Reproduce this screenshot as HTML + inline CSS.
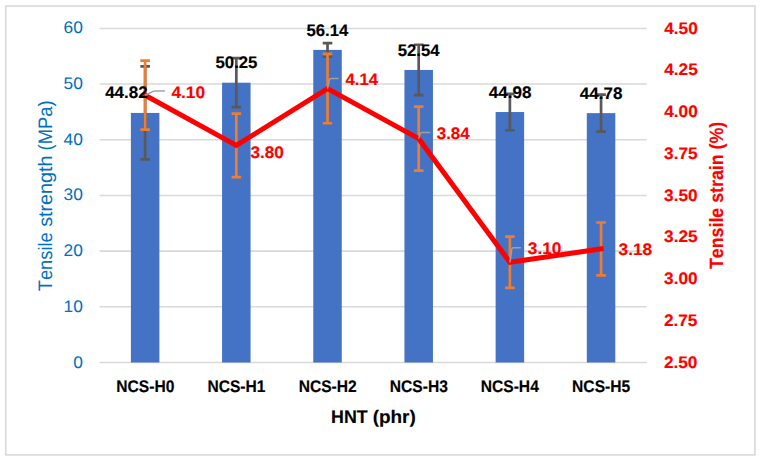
<!DOCTYPE html>
<html><head><meta charset="utf-8"><style>
html,body{margin:0;padding:0;background:#fff;}
svg{display:block;}
text{font-family:"Liberation Sans",sans-serif;font-kerning:none;text-rendering:geometricPrecision;}
</style></head><body>
<svg width="763" height="463" viewBox="0 0 763 463">
<rect width="763" height="463" fill="#fff"/>
<rect x="5.75" y="6.05" width="749.15" height="448.85" fill="none" stroke="#D9D9D9" stroke-width="1.6"/>
<line x1="99.55" x2="646.65" y1="362.50" y2="362.50" stroke="#D9D9D9" stroke-width="1.55"/>
<line x1="99.55" x2="646.65" y1="306.82" y2="306.82" stroke="#D9D9D9" stroke-width="1.55"/>
<line x1="99.55" x2="646.65" y1="251.13" y2="251.13" stroke="#D9D9D9" stroke-width="1.55"/>
<line x1="99.55" x2="646.65" y1="195.45" y2="195.45" stroke="#D9D9D9" stroke-width="1.55"/>
<line x1="99.55" x2="646.65" y1="139.77" y2="139.77" stroke="#D9D9D9" stroke-width="1.55"/>
<line x1="99.55" x2="646.65" y1="84.08" y2="84.08" stroke="#D9D9D9" stroke-width="1.55"/>
<line x1="99.55" x2="646.65" y1="28.40" y2="28.40" stroke="#D9D9D9" stroke-width="1.55"/>
<rect x="130.89" y="112.93" width="28.5" height="249.57" fill="#4472C4"/>
<rect x="222.07" y="82.69" width="28.5" height="279.81" fill="#4472C4"/>
<rect x="313.26" y="49.89" width="28.5" height="312.61" fill="#4472C4"/>
<rect x="404.44" y="69.94" width="28.5" height="292.56" fill="#4472C4"/>
<rect x="495.63" y="112.04" width="28.5" height="250.46" fill="#4472C4"/>
<rect x="586.81" y="113.15" width="28.5" height="249.35" fill="#4472C4"/>
<path d="M145.14 66.43V159.43M140.34 66.43H149.94M140.34 159.43H149.94" stroke="#595959" stroke-width="2.7" fill="none"/>
<path d="M236.32 58.19V107.19M231.52 58.19H241.12M231.52 107.19H241.12" stroke="#595959" stroke-width="2.7" fill="none"/>
<path d="M327.51 43.04V56.74M322.71 43.04H332.31M322.71 56.74H332.31" stroke="#595959" stroke-width="2.7" fill="none"/>
<path d="M418.69 44.74V95.14M413.89 44.74H423.49M413.89 95.14H423.49" stroke="#595959" stroke-width="2.7" fill="none"/>
<path d="M509.88 93.84V130.24M505.08 93.84H514.68M505.08 130.24H514.68" stroke="#595959" stroke-width="2.7" fill="none"/>
<path d="M601.06 94.65V131.65M596.26 94.65H605.86M596.26 131.65H605.86" stroke="#595959" stroke-width="2.7" fill="none"/>
<path d="M145.14 60.72V129.72M140.34 60.72H149.94M140.34 129.72H149.94" stroke="#ED7D31" stroke-width="2.7" fill="none"/>
<path d="M236.32 113.64V177.03M231.52 113.64H241.12M231.52 177.03H241.12" stroke="#ED7D31" stroke-width="2.7" fill="none"/>
<path d="M327.51 53.84V123.24M322.71 53.84H332.31M322.71 123.24H332.31" stroke="#ED7D31" stroke-width="2.7" fill="none"/>
<path d="M418.69 106.65V170.65M413.89 106.65H423.49M413.89 170.65H423.49" stroke="#ED7D31" stroke-width="2.7" fill="none"/>
<path d="M509.88 236.57V287.97M505.08 236.57H514.68M505.08 287.97H514.68" stroke="#ED7D31" stroke-width="2.7" fill="none"/>
<path d="M601.06 222.51V275.31M596.26 222.51H605.86M596.26 275.31H605.86" stroke="#ED7D31" stroke-width="2.7" fill="none"/>
<polyline points="145.14,95.22 236.32,145.34 327.51,88.54 418.69,138.65 509.88,262.27 601.06,248.91" fill="none" stroke="#FF0000" stroke-width="5.0" stroke-linejoin="miter" stroke-miterlimit="10" stroke-linecap="square"/>
<path d="M145.14,95.22 L153.21,91.41 Q154.30,90.90 155.50,90.90 L164.90,90.90" stroke="#A0A0A0" stroke-width="1.5" fill="none"/>
<path d="M327.51,88.54 L329.45,79.57 Q329.70,78.40 330.90,78.40 L338.70,78.40" stroke="#A0A0A0" stroke-width="1.5" fill="none"/>
<path d="M418.69,138.65 L420.24,133.65 Q420.60,132.50 421.80,132.50 L430.20,132.50" stroke="#A0A0A0" stroke-width="1.5" fill="none"/>
<path d="M509.88,262.27 L511.83,248.99 Q512.00,247.80 513.20,247.80 L521.10,247.80" stroke="#A0A0A0" stroke-width="1.5" fill="none"/>
<text transform="translate(73.19,367.50) scale(1.0367,1)" font-size="16.72" font-weight="normal" fill="#0070C0">0</text>
<text transform="translate(63.55,311.82) scale(1.0367,1)" font-size="16.72" font-weight="normal" fill="#0070C0">10</text>
<text transform="translate(63.55,256.13) scale(1.0367,1)" font-size="16.72" font-weight="normal" fill="#0070C0">20</text>
<text transform="translate(63.55,200.45) scale(1.0367,1)" font-size="16.72" font-weight="normal" fill="#0070C0">30</text>
<text transform="translate(63.55,144.77) scale(1.0367,1)" font-size="16.72" font-weight="normal" fill="#0070C0">40</text>
<text transform="translate(63.55,89.08) scale(1.0367,1)" font-size="16.72" font-weight="normal" fill="#0070C0">50</text>
<text transform="translate(63.55,33.40) scale(1.0367,1)" font-size="16.72" font-weight="normal" fill="#0070C0">60</text>
<text transform="translate(664.24,33.65) scale(1.0318,1)" font-size="16.72" font-weight="bold" fill="#FF0000" stroke="#FF0000" stroke-width="0.145">4.50</text>
<text transform="translate(664.24,75.41) scale(1.0318,1)" font-size="16.72" font-weight="bold" fill="#FF0000" stroke="#FF0000" stroke-width="0.145">4.25</text>
<text transform="translate(664.24,117.18) scale(1.0318,1)" font-size="16.72" font-weight="bold" fill="#FF0000" stroke="#FF0000" stroke-width="0.145">4.00</text>
<text transform="translate(664.10,158.94) scale(1.0318,1)" font-size="16.72" font-weight="bold" fill="#FF0000" stroke="#FF0000" stroke-width="0.145">3.75</text>
<text transform="translate(664.10,200.70) scale(1.0318,1)" font-size="16.72" font-weight="bold" fill="#FF0000" stroke="#FF0000" stroke-width="0.145">3.50</text>
<text transform="translate(664.10,242.46) scale(1.0318,1)" font-size="16.72" font-weight="bold" fill="#FF0000" stroke="#FF0000" stroke-width="0.145">3.25</text>
<text transform="translate(664.10,284.23) scale(1.0318,1)" font-size="16.72" font-weight="bold" fill="#FF0000" stroke="#FF0000" stroke-width="0.145">3.00</text>
<text transform="translate(663.90,325.99) scale(1.0318,1)" font-size="16.72" font-weight="bold" fill="#FF0000" stroke="#FF0000" stroke-width="0.145">2.75</text>
<text transform="translate(663.90,367.75) scale(1.0318,1)" font-size="16.72" font-weight="bold" fill="#FF0000" stroke="#FF0000" stroke-width="0.145">2.50</text>
<text transform="translate(116.30,391.60) scale(0.9294,1)" font-size="16.79" font-weight="bold" fill="#000000" stroke="#000000" stroke-width="0.161">NCS-H0</text>
<text transform="translate(207.38,391.60) scale(0.9294,1)" font-size="16.79" font-weight="bold" fill="#000000" stroke="#000000" stroke-width="0.161">NCS-H1</text>
<text transform="translate(298.66,391.60) scale(0.9294,1)" font-size="16.79" font-weight="bold" fill="#000000" stroke="#000000" stroke-width="0.161">NCS-H2</text>
<text transform="translate(389.81,391.60) scale(0.9294,1)" font-size="16.79" font-weight="bold" fill="#000000" stroke="#000000" stroke-width="0.161">NCS-H3</text>
<text transform="translate(480.75,391.60) scale(0.9294,1)" font-size="16.79" font-weight="bold" fill="#000000" stroke="#000000" stroke-width="0.161">NCS-H4</text>
<text transform="translate(572.11,391.60) scale(0.9294,1)" font-size="16.79" font-weight="bold" fill="#000000" stroke="#000000" stroke-width="0.161">NCS-H5</text>
<text transform="translate(331.11,422.80) scale(0.9747,1)" font-size="18.31" font-weight="bold" fill="#000000" stroke="#000000" stroke-width="0.154">HNT</text>
<text transform="translate(372.66,422.80) scale(1.0358,1)" font-size="18.31" font-weight="bold" fill="#000000" stroke="#000000" stroke-width="0.145">(phr)</text>
<text transform="translate(51.90,291.21) rotate(-90) scale(0.9315,1)" font-size="19.62" font-weight="normal" fill="#0070C0">Tensile</text>
<text transform="translate(51.90,226.85) rotate(-90) scale(1.0061,1)" font-size="19.62" font-weight="normal" fill="#0070C0">strength</text>
<text transform="translate(51.90,150.44) rotate(-90) scale(0.9396,1)" font-size="19.62" font-weight="normal" fill="#0070C0">(MPa)</text>
<text transform="translate(723.40,269.10) rotate(-90) scale(0.9278,1)" font-size="19.19" font-weight="bold" fill="#FF0000" stroke="#FF0000" stroke-width="0.162">Tensile strain (%)</text>
<text transform="translate(105.14,98.35) scale(1.0170,1)" font-size="16.72" font-weight="bold" fill="#000000" stroke="#000000" stroke-width="0.147">44.82</text>
<text transform="translate(215.48,67.85) scale(1.0037,1)" font-size="16.72" font-weight="bold" fill="#000000" stroke="#000000" stroke-width="0.149">50.25</text>
<text transform="translate(306.48,35.70) scale(1.0018,1)" font-size="16.72" font-weight="bold" fill="#000000" stroke="#000000" stroke-width="0.150">56.14</text>
<text transform="translate(397.79,55.60) scale(0.9994,1)" font-size="16.72" font-weight="bold" fill="#000000" stroke="#000000" stroke-width="0.150">52.54</text>
<text transform="translate(488.74,97.60) scale(1.0204,1)" font-size="16.72" font-weight="bold" fill="#000000" stroke="#000000" stroke-width="0.147">44.98</text>
<text transform="translate(579.74,98.75) scale(1.0204,1)" font-size="16.72" font-weight="bold" fill="#000000" stroke="#000000" stroke-width="0.147">44.78</text>
<text transform="translate(171.44,97.65) scale(1.0350,1)" font-size="16.72" font-weight="bold" fill="#FF0000" stroke="#FF0000" stroke-width="0.145">4.10</text>
<text transform="translate(250.51,157.95) scale(1.0266,1)" font-size="16.72" font-weight="bold" fill="#FF0000" stroke="#FF0000" stroke-width="0.146">3.80</text>
<text transform="translate(345.45,84.60) scale(1.0034,1)" font-size="16.72" font-weight="bold" fill="#FF0000" stroke="#FF0000" stroke-width="0.149">4.14</text>
<text transform="translate(436.71,138.60) scale(1.0138,1)" font-size="16.72" font-weight="bold" fill="#FF0000" stroke="#FF0000" stroke-width="0.148">3.84</text>
<text transform="translate(527.80,253.80) scale(1.0330,1)" font-size="16.72" font-weight="bold" fill="#FF0000" stroke="#FF0000" stroke-width="0.145">3.10</text>
<text transform="translate(618.60,255.25) scale(1.0337,1)" font-size="16.72" font-weight="bold" fill="#FF0000" stroke="#FF0000" stroke-width="0.145">3.18</text>
</svg>
</body></html>
